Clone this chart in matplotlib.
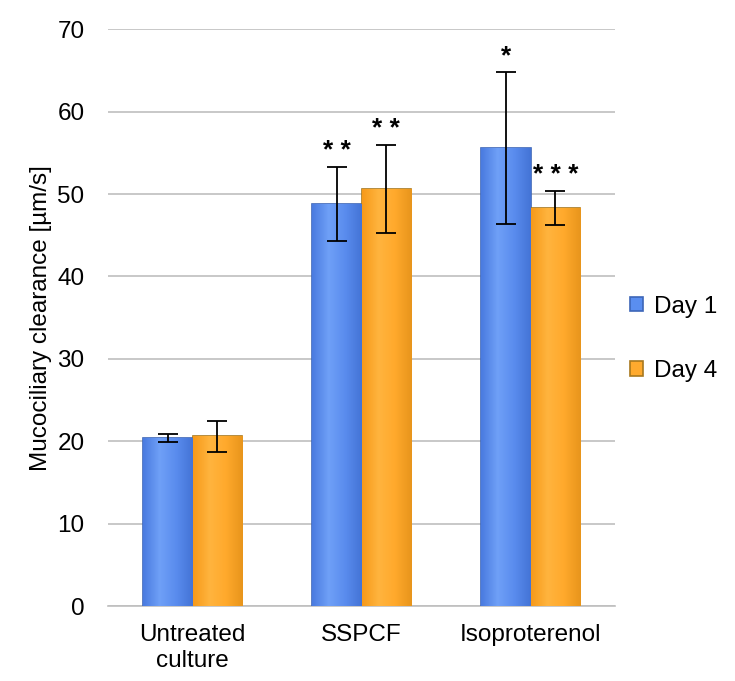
import numpy as np
import matplotlib.pyplot as plt
from matplotlib.colors import LinearSegmentedColormap

plt.rcParams['font.family'] = ['Liberation Sans', 'DejaVu Sans']

categories = ['Untreated\nculture', 'SSPCF', 'Isoproterenol']
series = ['Day 1', 'Day 4']
day1 = [20.4, 48.8, 55.6]
day4 = [20.6, 50.6, 48.3]
day1_err = [0.5, 4.5, 9.2]
day4_err = [1.9, 5.3, 2.1]
day1_stars = ['', '* *', '*']
day4_stars = ['', '* *', '* * *']

colors = ['#5A8EF0', '#FFAA2E']
edges = ['#3D66B8', '#A8781E']
gradients = [['#4A7BE0', '#6FA0F7', '#5A8CEE', '#4474D6'],
             ['#F79A1A', '#FFB43E', '#FFA92C', '#E8951C']]

fig = plt.figure(figsize=(7.35, 6.81), dpi=100)
ax = fig.add_axes([0.147, 0.110, 0.690, 0.847])

x = np.arange(len(categories))
w = 0.293
grad = np.linspace(0, 1, 64).reshape(1, -1)
for i, (vals, errs, stars) in enumerate([(day1, day1_err, day1_stars),
                                        (day4, day4_err, day4_stars)]):
    pos = x + (i - 0.5) * w
    bars = ax.bar(pos, vals, w, color=colors[i], edgecolor=edges[i],
                  linewidth=1.2, label=series[i], zorder=3)
    cmap = LinearSegmentedColormap.from_list('g%d' % i, gradients[i])
    for b in bars:
        bx, by = b.get_x(), b.get_y()
        im = ax.imshow(grad, cmap=cmap, aspect='auto', zorder=3.1,
                       extent=[bx, bx + b.get_width(), by, by + b.get_height()])
        im.set_clip_path(b)
    ax.errorbar(pos, vals, yerr=errs, fmt='none', ecolor='black',
                elinewidth=1.3, capsize=7, capthick=1.3, zorder=4)
    for p, v, e, s in zip(pos, vals, errs, stars):
        if s:
            ax.text(p, v + e + 0.5, s, ha='center', va='bottom', fontsize=19,
                    fontweight='bold')

ax.set_xlim(-0.5, 2.5)
ax.set_ylim(0, 70)
ax.set_yticks(range(0, 71, 10))
ax.set_xticks(x)
ax.set_xticklabels(categories, fontsize=17.5)
ax.tick_params(axis='y', labelsize=17.5, length=0, pad=17)
ax.tick_params(axis='x', length=0, pad=13)
ax.yaxis.grid(True, color='#BFBFBF', linewidth=1.2, zorder=0)
for side in ['top', 'right', 'left']:
    ax.spines[side].set_visible(False)
ax.spines['bottom'].set_color('#BFBFBF')
ax.spines['bottom'].set_linewidth(1.2)
ax.set_ylabel('Mucociliary clearance [µm/s]', fontsize=17.5, labelpad=4)

ax.legend(loc='center left', bbox_to_anchor=(1.0, 0.463), frameon=False,
          fontsize=17.5, handlelength=0.55, handleheight=0.55,
          labelspacing=1.75, handletextpad=0.45, borderaxespad=0.2)

fig.savefig('out.png', dpi=100)
